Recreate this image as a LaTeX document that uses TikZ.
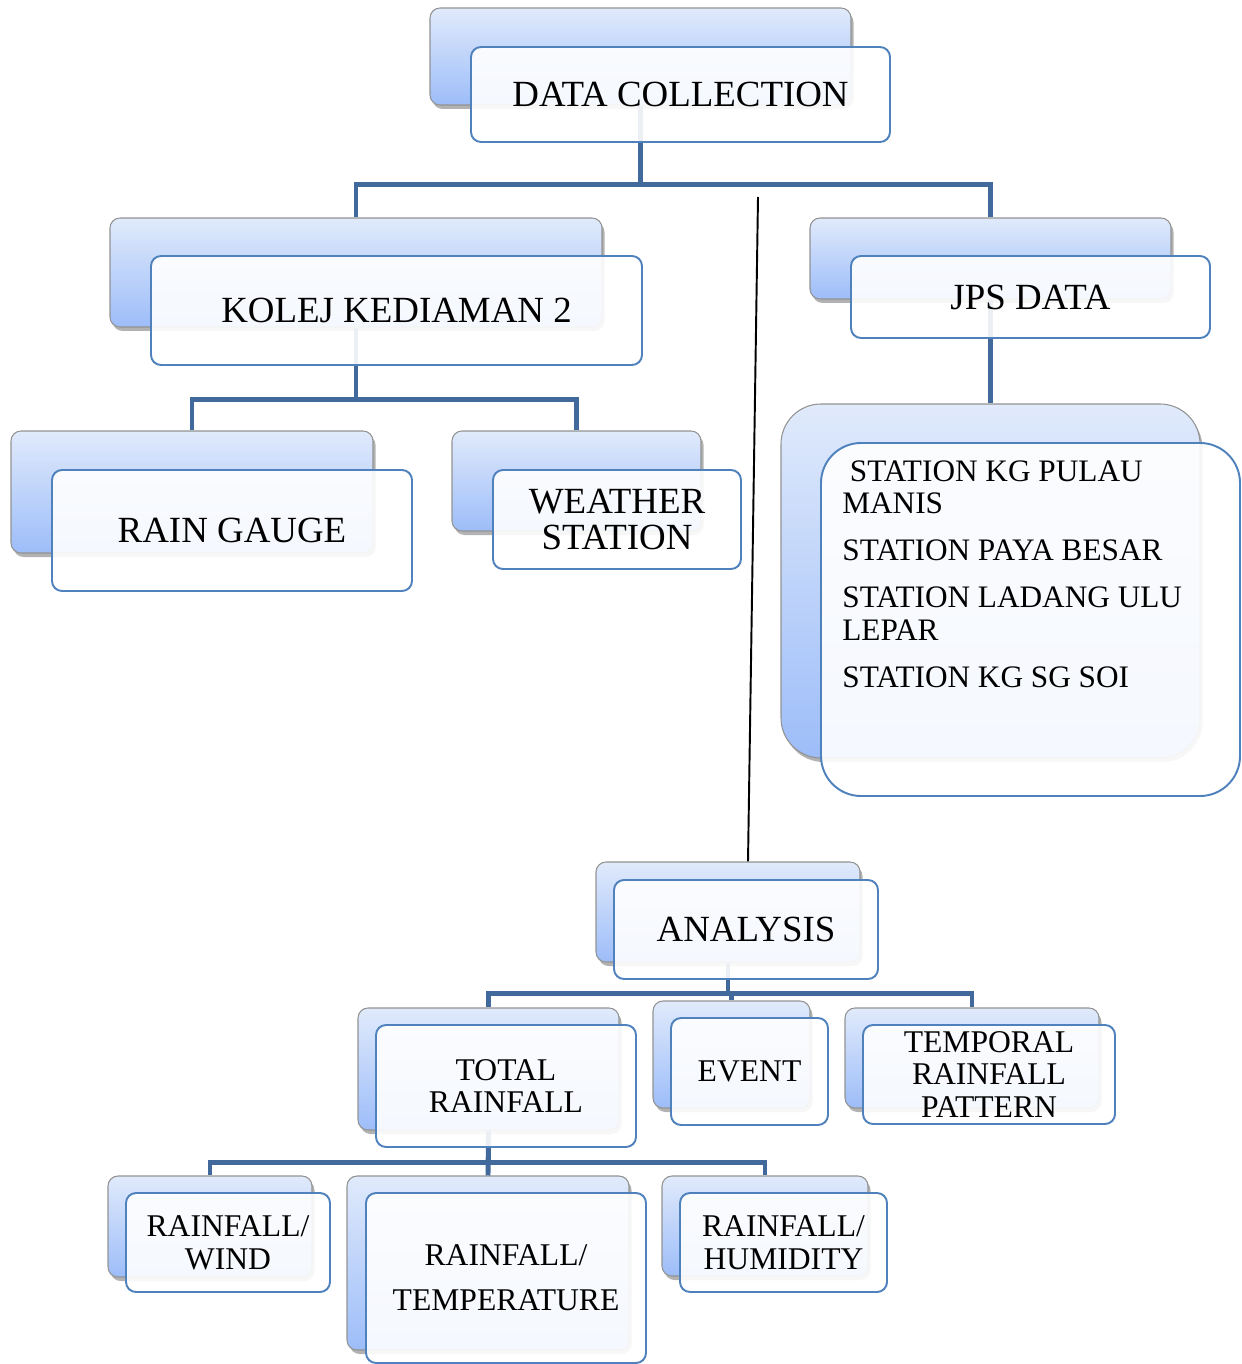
\documentclass[tikz,border=0pt]{standalone}
\usepackage{fontspec}
\setmainfont{Liberation Serif}
\usetikzlibrary{shadows}

\definecolor{conncol}{HTML}{41699C}
\definecolor{framecol}{HTML}{4F81BD}
\definecolor{backtop}{HTML}{E0EAFB}
\definecolor{backbot}{HTML}{9DBDF9}

\tikzset{
  backbox/.style={draw=gray!85, line width=0.6pt, rounded corners=0.2cm,
    top color=backtop, bottom color=backbot,
    drop shadow={shadow xshift=0.05cm, shadow yshift=-0.08cm, opacity=0.3, fill=black}},
  frontbox/.style={draw=framecol, line width=1.1pt, rounded corners=0.2cm,
    fill=white, fill opacity=0.9, text opacity=1, align=center, inner sep=0pt},
  conn/.style={draw=conncol, line width=2.8pt},
  bigtxt/.style={font=\fontsize{21}{21}\selectfont},
  smalltxt/.style={font=\fontsize{18}{18.7}\selectfont},
  sz/.style n args={2}{minimum width=#1*0.02cm, minimum height=#2*0.02cm},
}

\begin{document}
\begin{tikzpicture}[x=0.02cm, y=-0.02cm]
\useasboundingbox (0,0) rectangle (1241,1364);

% back boxes
\node[backbox, sz={421}{97}] (dcB) at (640.5,56.5) {};
\node[backbox, sz={492}{109}] (kolejB) at (356,272.5) {};
\node[backbox, sz={361}{81}] (jpsB) at (990.5,258.5) {};
\node[backbox, sz={419}{354}, rounded corners=0.8cm] (staB) at (990.5,581) {};
\node[backbox, sz={362}{122}] (rgB) at (192,492) {};
\node[backbox, sz={249}{100}] (wsB) at (576.5,481) {};
\node[backbox, sz={264}{100}] (anaB) at (728,912) {};
\node[backbox, sz={261}{122}] (totB) at (488.5,1069) {};
\node[backbox, sz={157}{107}] (evB) at (731.5,1054.5) {};
\node[backbox, sz={254}{100}] (tpB) at (972,1058) {};
\node[backbox, sz={204}{101}] (wdB) at (210,1226.5) {};
\node[backbox, sz={282}{174}] (tmB) at (488,1263) {};
\node[backbox, sz={206}{100}] (hmB) at (765,1226) {};

% connectors
\draw[conn] (dcB.south) -- ++(0,79) -| (kolejB.north);
\draw[conn] (dcB.south) -- ++(0,79) -| (jpsB.north);
\draw[conn] (jpsB.south) -- (staB.north);
\draw[conn] (kolejB.south) -- ++(0,72) -| (rgB.north);
\draw[conn] (kolejB.south) -- ++(0,72) -| (wsB.north);
\draw[conn] (anaB.south) -- ++(0,31) -| (totB.north);
\draw[conn] (anaB.south) -- ++(0,31) -| (evB.north);
\draw[conn] (anaB.south) -- ++(0,31) -| (tpB.north);
\draw[conn] (totB.south) -- ++(0,32) -| (wdB.north);
\draw[conn] (totB.south) -- (tmB.north);
\draw[conn] (totB.south) -- ++(0,32) -| (hmB.north);

\coordinate (lnTop) at (758,197);
\draw[line width=1.1pt] (lnTop) -- ([xshift=0.4cm]anaB.north);

% front boxes
\node[frontbox, bigtxt, sz={419}{95}] (dc) at (680.5,94.5) {DATA COLLECTION};
\node[frontbox, bigtxt, sz={491}{109}] (kolej) at (396.5,310.5) {KOLEJ KEDIAMAN 2};
\node[frontbox, bigtxt, sz={359}{82}] (jps) at (1030.5,297) {JPS DATA};
\node[frontbox, sz={419}{353}, rounded corners=0.8cm] (sta) at (1030.5,619.5) {};
\node[anchor=north west, inner sep=0pt, align=left, font=\fontsize{17.8}{18.7}\selectfont] (staTxt) at (842,460)
  {\hspace*{0.15cm}STATION KG PULAU\\MANIS\\[8pt]STATION PAYA BESAR\\[8pt]STATION LADANG ULU\\LEPAR\\[8pt]STATION KG SG SOI};
\node[frontbox, bigtxt, sz={360}{121}] (rg) at (232,530.5) {RAIN GAUGE};
\node[frontbox, bigtxt, sz={248}{99}] (ws) at (617,519.5) {WEATHER\\STATION};
\node[frontbox, bigtxt, sz={264}{99}] (ana) at (746,929.5) {ANALYSIS};
\node[frontbox, smalltxt, sz={260}{122}] (tot) at (506,1086) {TOTAL\\RAINFALL};
\node[frontbox, smalltxt, sz={157}{107}] (ev) at (749.5,1071.5) {EVENT};
\node[frontbox, smalltxt, sz={252}{99}] (tp) at (989,1074.5) {TEMPORAL\\RAINFALL\\PATTERN};
\node[frontbox, smalltxt, sz={204}{99}] (wd) at (228,1242.5) {RAINFALL/\\WIND};
\node[frontbox, smalltxt, sz={280}{170}] (tm) at (506,1278) {RAINFALL/\\[7pt]TEMPERATURE};
\node[frontbox, smalltxt, sz={207}{99}] (hm) at (783.5,1242.5) {RAINFALL/\\HUMIDITY};
\end{tikzpicture}
\end{document}
